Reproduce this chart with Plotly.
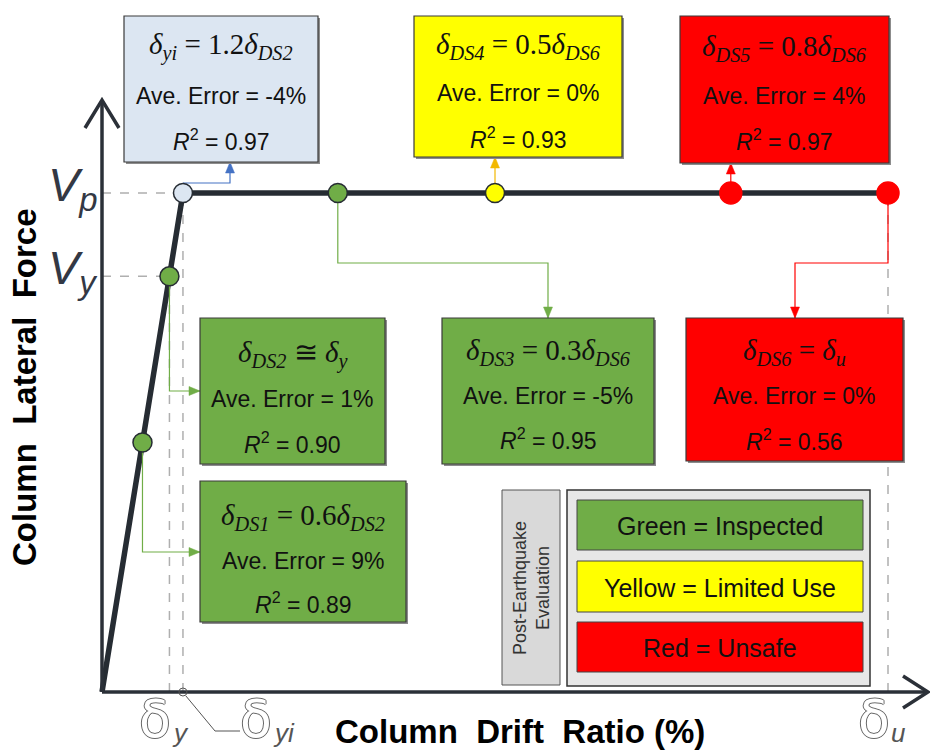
import plotly.graph_objects as go

W, H = 930, 750
# Pixel placement of the force-drift axes inside the canvas
X0, Y0 = 102, 692      # origin
XS, YS = 786, 499      # pixels per unit drift (δu = 1) and per unit force (Vp = 1)


def dx(px):
    return (px - X0) / XS


def dy(py):
    return (Y0 - py) / YS


def pxx(x):
    return X0 + x * XS


def pyy(y):
    return Y0 - y * YS


def px_(px):
    return px / W


def py_(py):
    return 1 - py / H


# ---- data: idealised force-drift backbone and damage states ----
curve_drift = [0.0, 0.1030, 1.00]
curve_force = [0.0, 1.00, 1.00]

states = ["DS1", "DS2", "yi", "DS3", "DS4", "DS5", "DS6"]
state_drift = [0.0515, 0.0858, 0.1030, 0.30, 0.50, 0.80, 1.00]
state_force = [0.50, 0.833, 1.00, 1.00, 1.00, 1.00, 1.00]
state_eq = [
    "<i>δ<sub>DS1</sub></i> = 0.6<i>δ<sub>DS2</sub></i>",
    "<i>δ<sub>DS2</sub></i> ≅ <i>δ<sub>y</sub></i>",
    "<i>δ<sub>yi</sub></i> = 1.2<i>δ<sub>DS2</sub></i>",
    "<i>δ<sub>DS3</sub></i> = 0.3<i>δ<sub>DS6</sub></i>",
    "<i>δ<sub>DS4</sub></i> = 0.5<i>δ<sub>DS6</sub></i>",
    "<i>δ<sub>DS5</sub></i> = 0.8<i>δ<sub>DS6</sub></i>",
    "<i>δ<sub>DS6</sub></i> = <i>δ<sub>u</sub></i>",
]
ave_error = ["9%", "1%", "-4%", "-5%", "0%", "4%", "0%"]
r_squared = ["0.89", "0.90", "0.97", "0.95", "0.93", "0.97", "0.56"]

legend_items = ["Green = Inspected", "Yellow = Limited Use", "Red = Unsafe"]

# ---- styling ----
GREEN, YELLOW, RED, LBLUE = "#70AD47", "#FFFF00", "#FF0000", "#DCE6F2"
DARK = "#262C33"
state_fill = [GREEN, GREEN, LBLUE, GREEN, YELLOW, RED, RED]
state_edge = [DARK, DARK, DARK, DARK, DARK, RED, RED]
state_size = [19, 19, 19, 19, 19, 22, 22]
link_color = [GREEN, GREEN, "#4472C4", GREEN, "#F2B800", RED, RED]

# boxes (left, top, right, bottom) in pixels, and the three text rows
boxes = {
    "DS1": ((200, 481, 406, 622), (517, 561, 603)),
    "DS2": ((200, 318, 385, 464), (354, 399, 443)),
    "yi": ((124, 16, 318, 162), (46, 96, 140)),
    "DS3": ((442, 318, 654, 464), (352, 396, 439)),
    "DS4": ((414, 16, 622, 157), (46, 93, 138)),
    "DS5": ((680, 16, 889, 163), (48, 96, 140)),
    "DS6": ((686, 318, 903, 461), (352, 396, 440)),
}

fig = go.Figure()
shapes = []
annots = []


def note(x, y, text, font, xanchor="center", yanchor="middle", **kw):
    annots.append(dict(x=x, y=y, xref="paper", yref="paper", text=text, showarrow=False,
                       font=font, xanchor=xanchor, yanchor=yanchor, **kw))


# dashed guide lines
GUIDE = dict(color="#AFAFAF", width=1.5, dash="dash")
i2, iy, i6 = states.index("DS2"), states.index("yi"), states.index("DS6")
for x0, y0, x1, y1 in [
    (0, state_force[iy], state_drift[iy], state_force[iy]),
    (0, state_force[i2], state_drift[i2], state_force[i2]),
    (state_drift[i2], 0, state_drift[i2], state_force[i2]),
    (state_drift[iy], 0, state_drift[iy], state_force[iy]),
    (state_drift[i6], 0, state_drift[i6], state_force[i6]),
]:
    shapes.append(dict(type="line", xref="x", yref="y", x0=x0, y0=y0, x1=x1, y1=y1, line=GUIDE, layer="below"))

# axes with open arrowheads
AX = dict(color="#2B3038", width=3.5)
shapes += [
    dict(type="line", xref="x", yref="y", x0=0, y0=0, x1=0, y1=dy(101), line=AX),
    dict(type="path", xref="paper", yref="paper",
         path=f"M{px_(85)},{py_(128)} L{px_(102)},{py_(100)} L{px_(119)},{py_(128)}", line=AX),
    dict(type="line", xref="x", yref="y", x0=0, y0=0, x1=dx(927), y1=0, line=AX),
    dict(type="path", xref="paper", yref="paper",
         path=f"M{px_(903)},{py_(676)} L{px_(928)},{py_(692)} L{px_(903)},{py_(708)}", line=AX),
]

# backbone curve
fig.add_trace(go.Scatter(x=curve_drift, y=curve_force, mode="lines",
                         line=dict(color=DARK, width=5.5), hoverinfo="skip", showlegend=False))


def link(points, color, tip_dir):
    xs = [dx(p[0]) for p in points]
    ys = [dy(p[1]) for p in points]
    fig.add_trace(go.Scatter(x=xs, y=ys, mode="lines", line=dict(color=color, width=1.2),
                             hoverinfo="skip", showlegend=False))
    tx, ty = points[-1]
    if tip_dir == "up":
        tri = [(tx, ty), (tx - 4.5, ty + 11), (tx + 4.5, ty + 11)]
    elif tip_dir == "down":
        tri = [(tx, ty), (tx - 4.5, ty - 11), (tx + 4.5, ty - 11)]
    else:
        tri = [(tx, ty), (tx - 11, ty - 4.5), (tx - 11, ty + 4.5)]
    path = "M" + " L".join(f"{px_(a)},{py_(b)}" for a, b in tri) + " Z"
    shapes.append(dict(type="path", xref="paper", yref="paper", path=path,
                       fillcolor=color, line=dict(color=color, width=0.5)))


# connectors from each damage state to its box
for k, s in enumerate(states):
    mx, my = pxx(state_drift[k]), pyy(state_force[k])
    (l, t, r, b), _ = boxes[s]
    c = link_color[k]
    if s in ("DS1", "DS2"):
        turn = 552 if s == "DS1" else 391
        link([(mx, my), (mx, turn), (l, turn)], c, "right")
    elif s == "yi":
        link([(mx, my - 10), (230, my - 10), (230, b)], c, "up")
    elif s in ("DS4", "DS5"):
        link([(mx, my - 10), (mx, b)], c, "up")
    elif s == "DS3":
        link([(mx, my), (mx, 263), (548, 263), (548, t)], c, "down")
    elif s == "DS6":
        link([(mx, my), (mx, 263), (795, 263), (795, t)], c, "down")

# damage-state markers
fig.add_trace(go.Scatter(x=state_drift, y=state_force, mode="markers",
                         marker=dict(size=state_size, color=state_fill, opacity=1,
                                     line=dict(color=state_edge, width=1.5)),
                         hoverinfo="skip", showlegend=False))

# result boxes
TXT = dict(family="Liberation Sans, Arial, sans-serif", size=23, color="#111111")
EQ = dict(family="Liberation Serif, DejaVu Serif, serif", size=29, color="#111111")
for k, s in enumerate(states):
    (l, t, r, b), rows = boxes[s]
    shapes.append(dict(type="rect", xref="paper", yref="paper", x0=px_(l + 2), y0=py_(t + 2), x1=px_(r + 2),
                       y1=py_(b + 2), fillcolor="#8C8C8C", line=dict(width=0)))
    shapes.append(dict(type="rect", xref="paper", yref="paper", x0=px_(l), y0=py_(t), x1=px_(r), y1=py_(b),
                       fillcolor=state_fill[k], line=dict(color="#3A3A3A", width=1.2)))
    cx = px_((l + r) / 2)
    note(cx, py_(rows[0]), state_eq[k], EQ)
    note(cx, py_(rows[1]), f"Ave. Error = {ave_error[k]}", TXT)
    note(cx, py_(rows[2]), f"<i>R</i><sup>2</sup> = {r_squared[k]}", TXT)

# post-earthquake evaluation key
shapes += [
    dict(type="rect", xref="paper", yref="paper", x0=px_(502), y0=py_(490), x1=px_(560), y1=py_(685),
         fillcolor="#D9D9D9", line=dict(color="#555555", width=1)),
    dict(type="rect", xref="paper", yref="paper", x0=px_(567), y0=py_(490), x1=px_(870), y1=py_(686),
         fillcolor="#E7E7E7", line=dict(color="#333333", width=1.5)),
]
note(px_(531), py_(588), "Post-Earthquake<br>Evaluation",
     dict(family="Liberation Sans, Arial, sans-serif", size=18, color="#333333"), textangle=-90)
key_fill = [GREEN, YELLOW, RED]
key_rows = [(500, 550), (561, 612), (622, 672)]
for name, fc, (t, b) in zip(legend_items, key_fill, key_rows):
    shapes.append(dict(type="rect", xref="paper", yref="paper", x0=px_(577), y0=py_(t), x1=px_(863), y1=py_(b),
                       fillcolor=fc, line=dict(color="#444444", width=1)))
    note(px_(720), py_((t + b) / 2 + 1), name,
         dict(family="Liberation Sans, Arial, sans-serif", size=25, color="#111111"))

# force tick labels: italic V with its subscript
VFONT = dict(family="Liberation Sans, Arial, sans-serif", size=47, color="#333844")
for idx, sub in [(iy, "p"), (i2, "y")]:
    ty = pyy(state_force[idx])
    note(px_(100), py_(ty - 5), f"<i>V<sub>{sub}</sub></i>", VFONT, xanchor="right")

# drift tick labels (outlined delta glyph with solid subscript)
OUTLINE = dict(family="DejaVu Sans, sans-serif", size=52, color="white",
               shadow="1px 0 0 #666, -1px 0 0 #666, 0 1px 0 #666, 0 -1px 0 #666")
SUBF = dict(family="Liberation Sans, Arial, sans-serif", size=26, color="#555555", style="italic")
drift_ticks = [(pxx(state_drift[i2]) + 4, "y"), (274, "yi"), (pxx(state_drift[i6]) + 4, "u")]
for tx, sub in drift_ticks:
    note(px_(tx), py_(719), "δ", OUTLINE, xanchor="right")
    note(px_(tx - 3), py_(750), sub, SUBF, xanchor="left", yanchor="bottom")

# leader from the δyi point on the axis to its label
cxp = pxx(state_drift[iy])
shapes.append(dict(type="circle", xref="paper", yref="paper",
                   x0=px_(cxp - 4), y0=py_(696), x1=px_(cxp + 4), y1=py_(688),
                   line=dict(color="#555555", width=1)))
fig.add_trace(go.Scatter(x=[dx(cxp + 3), dx(215), dx(240)], y=[dy(696), dy(731), dy(731)],
                         mode="lines", line=dict(color="#555555", width=1), hoverinfo="skip", showlegend=False))

# axis titles
TFONT = dict(family="Liberation Sans, Arial, sans-serif", size=33, color="#000000", weight="bold")
note(px_(24), py_(387), "Column  Lateral  Force", TFONT, textangle=-90)
note(px_(520), py_(731), "Column  Drift  Ratio (%)", TFONT)

fig.update_layout(
    width=W, height=H, margin=dict(l=0, r=0, t=0, b=0, pad=0),
    paper_bgcolor="white", plot_bgcolor="white",
    xaxis=dict(range=[dx(0), dx(W)], visible=False, fixedrange=True),
    yaxis=dict(range=[dy(H), dy(0)], visible=False, fixedrange=True),
    shapes=shapes, annotations=annots, showlegend=False,
)
fig.write_html("out.html")
